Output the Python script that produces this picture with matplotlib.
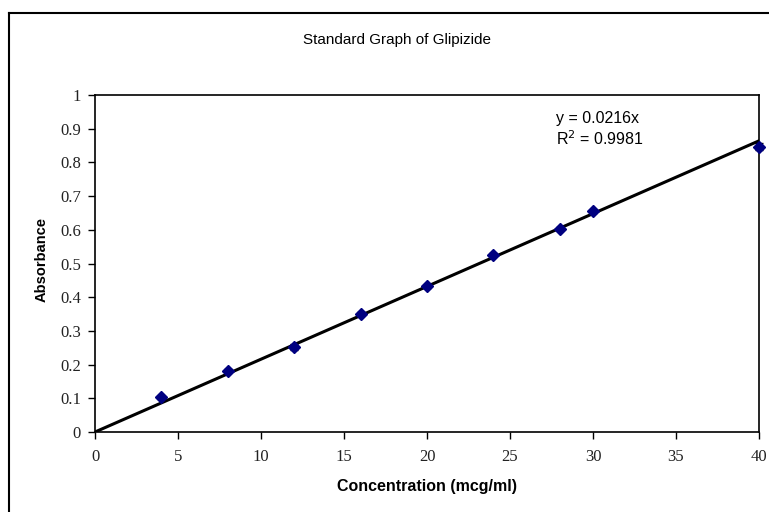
import matplotlib
matplotlib.use("Agg")
import matplotlib.pyplot as plt
from matplotlib.lines import Line2D
import numpy as np

conc = [4, 8, 12, 16, 20, 24, 28, 30, 40]
absorb = [0.103, 0.182, 0.252, 0.351, 0.432, 0.526, 0.603, 0.655, 0.847]
err = [0.005, 0.005, 0.010, 0.005, 0.005, 0.005, 0.005, 0.005, 0.010]
slope = 0.0216
x_ticks = [0, 5, 10, 15, 20, 25, 30, 35, 40]
y_ticks = [0, 0.1, 0.2, 0.3, 0.4, 0.5, 0.6, 0.7, 0.8, 0.9, 1]
y_tick_labels = ["0", "0.1", "0.2", "0.3", "0.4", "0.5", "0.6", "0.7", "0.8", "0.9", "1"]

W, H = 769, 512
fig = plt.figure(figsize=(W / 100, H / 100), dpi=100)
ax = fig.add_axes([95 / W, 1 - 432 / H, (759 - 95) / W, (432 - 95) / H])

xs = np.array([0, 40])
ax.plot(xs, slope * xs, color="black", lw=2.2, zorder=2)
ax.errorbar(conc, absorb, yerr=err, fmt="D", color="#000080", ms=6,
            ecolor="black", elinewidth=1, capsize=3, capthick=1, zorder=3,
            clip_on=False)

ax.set_xlim(0, 40)
ax.set_ylim(0, 1)
ax.set_xticks(x_ticks)
ax.set_xticklabels([str(v) for v in x_ticks])
ax.set_yticks(y_ticks)
ax.set_yticklabels(y_tick_labels)
for lab in ax.get_xticklabels() + ax.get_yticklabels():
    lab.set_family("Liberation Serif")
    lab.set_fontsize(12)
    lab.set_color("#222222")
ax.tick_params(axis="x", direction="out", length=5, width=1, color="black", pad=7)
ax.tick_params(axis="y", direction="out", length=5, width=1, color="black", pad=5)
for s in ax.spines.values():
    s.set_linewidth(1.2)
    s.set_color("black")

ax.set_xlabel("Concentration (mcg/ml)", fontfamily="Liberation Sans",
              fontweight="bold", fontsize=11.5)
ax.set_ylabel("Absorbance", fontfamily="Liberation Sans",
              fontweight="bold", fontsize=10.5)
ax.xaxis.set_label_coords(0.5, -(487 - 432) / (432 - 95))
ax.xaxis.label.set_va("center")
ax.yaxis.set_label_coords(-(95 - 42) / (759 - 95), (432 - 260) / (432 - 95))
ax.yaxis.label.set_va("center")

fig.text(397 / W, 1 - 40 / H, "Standard Graph of Glipizide",
         fontfamily="Liberation Sans", fontsize=11, ha="center", va="center")
fig.text(556 / W, 1 - 118 / H, "y = 0.0216x", fontfamily="Liberation Sans",
         fontsize=11.5, ha="left", va="center")
fig.text(556 / W, 1 - 139 / H, "R$^2$ = 0.9981", fontfamily="Liberation Sans",
         fontsize=11.5, ha="left", va="center")

# outer chart frame
fig.add_artist(Line2D([9 / W, 9 / W], [1 - 13 / H, 0], transform=fig.transFigure,
                      color="black", lw=1.5))
fig.add_artist(Line2D([9 / W, 1], [1 - 13 / H, 1 - 13 / H], transform=fig.transFigure,
                      color="black", lw=1.5))

fig.savefig("out.png", dpi=100)
